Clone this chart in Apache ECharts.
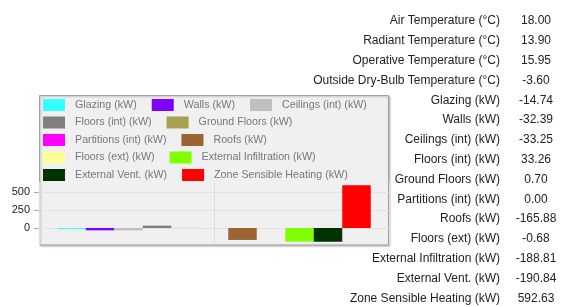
<!doctype html>
<html>
<head>
<meta charset="utf-8">
<title>Zone heat balance</title>
<script src="https://cdn.jsdelivr.net/npm/echarts@6/dist/echarts.min.js"></script>
<style>
    body{margin: 0; background: #fff;}
    #main{width: 564px; height: 307px;}
</style>
</head>
<body>
<div id="main"></div>
<script>
    // temperatures shown at the top of the side table
    var tempNames = ['Air Temperature (°C)', 'Radiant Temperature (°C)', 'Operative Temperature (°C)', 'Outside Dry-Bulb Temperature (°C)'];
    var tempValues = [18.00, 13.90, 15.95, -3.60];

    // heat balance components (one bar each)
    var seriesNames = ['Glazing (kW)', 'Walls (kW)', 'Ceilings (int) (kW)', 'Floors (int) (kW)', 'Ground Floors (kW)',
        'Partitions (int) (kW)', 'Roofs (kW)', 'Floors (ext) (kW)', 'External Infiltration (kW)', 'External Vent. (kW)',
        'Zone Sensible Heating (kW)'];
    var seriesValues = [-14.74, -32.39, -33.25, 33.26, 0.70, 0.00, -165.88, -0.68, -188.81, -190.84, 592.63];
    var seriesColors = ['#33ffff', '#7f00ff', '#c0c0c0', '#808080', '#a8a050', '#ff00ff', '#9c6433', '#ffff99',
        '#80ff00', '#003300', '#ff0000'];

    // y axis ticks
    var yTicks = [0, 250, 500];

    // legend rows
    var legendRows = [
        ['Glazing (kW)', 'Walls (kW)', 'Ceilings (int) (kW)'],
        ['Floors (int) (kW)', 'Ground Floors (kW)'],
        ['Partitions (int) (kW)', 'Roofs (kW)'],
        ['Floors (ext) (kW)', 'External Infiltration (kW)'],
        ['External Vent. (kW)', 'Zone Sensible Heating (kW)']
    ];

    var font = '"Liberation Sans", Arial, sans-serif';

    var legends = legendRows.map(function (row, i) {
        return {
            left: 43,
            top: 98 + i * 17.5,
            padding: 0,
            orient: 'horizontal',
            icon: 'rect',
            itemWidth: 22,
            itemHeight: 12,
            itemGap: 4,
            selectedMode: false,
            textStyle: {fontSize: 10.7, color: '#777', lineHeight: 14, padding: [0, 11, 0, 5], fontFamily: font},
            data: row
        };
    });

    var series = seriesNames.map(function (name, i) {
        return {
            name: name,
            type: 'bar',
            barWidth: 28.5,
            barGap: '0%',
            itemStyle: {color: seriesColors[i]},
            data: [seriesValues[i]]
        };
    });

    // side table as text
    var tableLabels = tempNames.concat(seriesNames);
    var tableValues = tempValues.concat(seriesValues);
    var graphics = [{
        type: 'rect',
        z: -1,
        shape: {x: 39.5, y: 95.5, width: 349, height: 149.5},
        style: {fill: '#f0f0f0', stroke: '#a3a3a3', lineWidth: 1,
            shadowColor: 'rgba(0,0,0,0.25)', shadowBlur: 2, shadowOffsetX: 1, shadowOffsetY: 1}
    }];
    tableLabels.forEach(function (label, i) {
        var y = 21 + i * 19.8;
        graphics.push({
            type: 'text', x: 500, y: y,
            style: {text: label, align: 'right', verticalAlign: 'middle', fill: '#222', font: '12px ' + font}
        });
        graphics.push({
            type: 'text', x: 536, y: y,
            style: {text: tableValues[i].toFixed(2), align: 'center', verticalAlign: 'middle', fill: '#222', font: '12px ' + font}
        });
    });

    var myChart = echarts.init(document.getElementById('main'));
    var option = {
        animation: false,
        textStyle: {fontFamily: font},
        graphic: graphics,
        legend: legends,
        grid: {left: 39, right: 175, top: 182, bottom: 62, containLabel: false},
        xAxis: [{
            type: 'category',
            data: [''],
            show: false
        }, {
            type: 'value',
            min: 0,
            max: 2,
            interval: 1,
            axisLine: {show: false},
            axisTick: {show: false},
            axisLabel: {show: false},
            splitLine: {show: true, lineStyle: {color: '#dcdcdc'}}
        }],
        yAxis: {
            type: 'value',
            min: -236,
            max: 639,
            axisLine: {show: false},
            axisTick: {show: true, length: 5, customValues: yTicks, lineStyle: {color: '#aaa'}},
            axisLabel: {customValues: yTicks, fontSize: 11, color: '#222', margin: 9},
            splitLine: {show: true, lineStyle: {color: '#e2e2e2'}}
        },
        series: series
    };
    myChart.setOption(option);
</script>
</body>
</html>
